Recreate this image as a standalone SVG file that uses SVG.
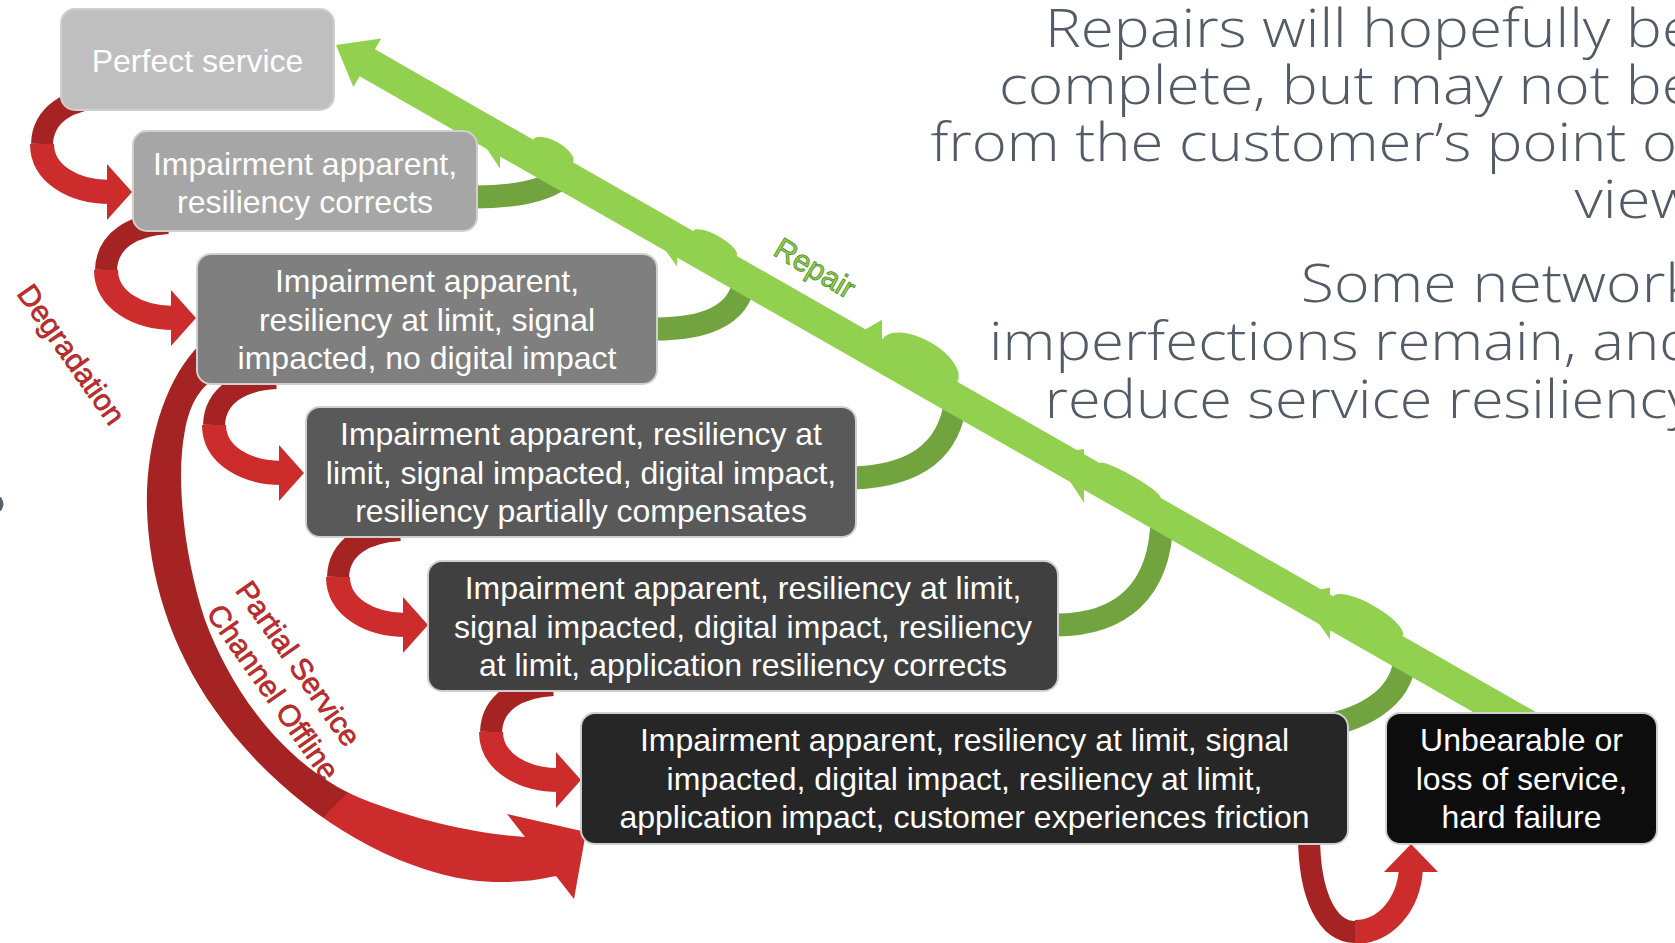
<svg xmlns="http://www.w3.org/2000/svg" width="1675" height="943" viewBox="0 0 1675 943">
  <defs>
    <style>
      .box rect { stroke: #cfcfcf; stroke-width: 2; }
      .box text { font-family: "Liberation Sans", Arial, sans-serif; font-size: 32px; fill: #ffffff; text-anchor: middle; }
      .note { font-family: "Open Sans", "Lato", sans-serif; font-weight: 300; font-size: 54px; fill: #535c66; }
      .red-lbl { font-family: "Liberation Sans", Arial, sans-serif; font-size: 30px; fill: #cc2b2b; stroke: #8e1b1b; stroke-width: 0.6; text-anchor: middle; }
      .grn-lbl { font-family: "Liberation Sans", Arial, sans-serif; font-size: 30px; fill: #92d050; stroke: #4f8a2a; stroke-width: 0.8; text-anchor: middle; }
      .back { fill: none; stroke: #a52322; stroke-width: 22; }
      .front { fill: none; stroke: #cc2c2c; stroke-width: 24; }
      .head { fill: #cc2c2c; }
      .band { fill: none; stroke: #71a33f; stroke-width: 23; }
      .lime { fill: #92d050; }
    </style>
    <!-- one degradation step: back ribbon, front ribbon, arrowhead (tip at origin) -->
    <g id="step-arrow">
      <path class="back" d="M -28 -95 C -63 -93 -89 -78 -90 -48"/>
      <path class="front" d="M -90 -48 C -90 -18 -58 0 -22 0"/>
      <path class="head" d="M -25 -28 L 0 0 L -25 28 Z"/>
    </g>
    <linearGradient id="bigFill" gradientUnits="userSpaceOnUse" x1="265" y1="745" x2="395" y2="875">
      <stop offset="0.5" stop-color="#a52322"/>
      <stop offset="0.5" stop-color="#cc2c2c"/>
    </linearGradient>
  </defs>

  <rect width="1675" height="943" fill="#ffffff"/>

  <!-- notes on the right -->
  <g id="notes">
    <text class="note" x="1045" y="46.5" textLength="650" lengthAdjust="spacingAndGlyphs">Repairs will hopefully be</text>
    <text class="note" x="999" y="103.8" textLength="696" lengthAdjust="spacingAndGlyphs">complete, but may not be</text>
    <text class="note" x="930.5" y="161" textLength="764.5" lengthAdjust="spacingAndGlyphs">from the customer’s point of</text>
    <text class="note" x="1574.5" y="218.3" textLength="120.5" lengthAdjust="spacingAndGlyphs">view</text>
    <text class="note" x="1300.8" y="301.5" textLength="394" lengthAdjust="spacingAndGlyphs">Some network</text>
    <text class="note" x="989" y="359.5" textLength="706" lengthAdjust="spacingAndGlyphs">imperfections remain, and</text>
    <text class="note" x="1044.8" y="417.5" textLength="650" lengthAdjust="spacingAndGlyphs">reduce service resiliency</text>
  </g>

  <!-- bullet cut by the left edge -->
  <circle cx="-6" cy="504" r="9.5" fill="#58606a"/>

  <g id="connectors">
    <!-- repair returns: bands from each box into the repair line -->
    <path class="band" d="M 474 197 C 512 197 548 192 566 174"/>
    <path class="band" d="M 655 329 C 700 329 740 318 744 280"/>
    <path class="band" d="M 853 478 C 905 476 950 458 956 398"/>
    <path class="band" d="M 1056 625 C 1120 625 1160 592 1162 520"/>
    <path class="band" d="M 1310 728 C 1360 722 1402 700 1405 658"/>

    <!-- repair line with arrowhead -->
    <line x1="362" y1="59.8" x2="1560" y2="743.7" stroke="#92d050" stroke-width="31"/>
    <polygon class="lime" points="336,45 381.2,38.5 353.4,87.1"/>

    <!-- joints where each return merges into the line -->
    <polygon class="lime" points="500,120.7 500,168.5 468,120.3"/>
    <polygon class="lime" points="677,221.8 677,266.4 645,221.4"/>
    <polygon class="lime" points="882,319.8 882,374.5 850,338.4"/>
    <polygon class="lime" points="1084,449.1 1084,502.8 1052,453.7"/>
    <polygon class="lime" points="1330,587.6 1330,639.3 1298,594.1"/>
    <ellipse class="lime" cx="553" cy="151.1" rx="23" ry="10" transform="rotate(29.71 553 151.1)"/>
    <ellipse class="lime" cx="715" cy="243.4" rx="25" ry="8" transform="rotate(29.71 715 243.4)"/>
    <ellipse class="lime" cx="920" cy="360.5" rx="43" ry="21" transform="rotate(29.71 920 360.5)"/>
    <ellipse class="lime" cx="1130" cy="480.4" rx="35" ry="5" transform="rotate(29.71 1130 480.4)"/>
    <ellipse class="lime" cx="1368" cy="616.3" rx="40" ry="12" transform="rotate(29.71 1368 616.3)"/>

    <!-- degradation steps -->
    <use href="#step-arrow" transform="translate(132 192)"/>
    <use href="#step-arrow" transform="translate(196 318)"/>
    <use href="#step-arrow" transform="translate(304 473)"/>
    <use href="#step-arrow" transform="translate(428 625)"/>
    <use href="#step-arrow" transform="translate(581 780)"/>

    <!-- partial service / channel offline shortcut -->
    <path fill="url(#bigFill)" d="M 205 340 C 175 365 150 420 147 490 C 145 560 165 640 215 710 C 270 790 370 865 470 880 C 500 884 530 882 556 876 L 574 899 L 586 832 L 507 814 L 525 837 C 480 834 420 822 360 798 C 290 768 235 700 205 620 C 185 560 175 480 185 430 C 190 405 198 390 215 378 Z"/>

    <!-- friction to hard failure -->
    <path class="back" d="M 1309 835 C 1309 897 1328 932 1355 932" stroke-width="23"/>
    <path class="front" d="M 1355 932 C 1385 932 1409 905 1411 868" stroke-width="21"/>
    <path class="head" d="M 1384 872 L 1411 844 L 1438 872 Z"/>
  </g>

  <g id="perfect" class="box">
    <rect x="61" y="9" width="273" height="101" rx="14" fill="#bfbfbf"/>
    <text x="197.5" y="72">Perfect service</text>
  </g>
  <g id="resiliency-corrects" class="box">
    <rect x="133" y="131" width="344" height="100" rx="14" fill="#a6a6a6"/>
    <text x="305" y="175">Impairment apparent,</text>
    <text x="305" y="212.5">resiliency corrects</text>
  </g>
  <g id="signal-impacted" class="box">
    <rect x="197" y="254" width="460" height="130" rx="14" fill="#7f7f7f"/>
    <text x="427" y="292">Impairment apparent,</text>
    <text x="427" y="330.5">resiliency at limit, signal</text>
    <text x="427" y="369">impacted, no digital impact</text>
  </g>
  <g id="digital-impact" class="box">
    <rect x="306" y="407" width="550" height="130" rx="14" fill="#595959"/>
    <text x="581" y="445">Impairment apparent, resiliency at</text>
    <text x="581" y="483.5">limit, signal impacted, digital impact,</text>
    <text x="581" y="522">resiliency partially compensates</text>
  </g>
  <g id="application-corrects" class="box">
    <rect x="428" y="561" width="630" height="130" rx="14" fill="#404040"/>
    <text x="743" y="599">Impairment apparent, resiliency at limit,</text>
    <text x="743" y="637.5">signal impacted, digital impact, resiliency</text>
    <text x="743" y="676">at limit, application resiliency corrects</text>
  </g>
  <g id="customer-friction" class="box">
    <rect x="581" y="713" width="767" height="131" rx="14" fill="#262626"/>
    <text x="964.5" y="751">Impairment apparent, resiliency at limit, signal</text>
    <text x="964.5" y="789.5">impacted, digital impact, resiliency at limit,</text>
    <text x="964.5" y="828">application impact, customer experiences friction</text>
  </g>
  <g id="hard-failure" class="box">
    <rect x="1386" y="713" width="271" height="131" rx="14" fill="#0d0d0d"/>
    <text x="1521.5" y="751">Unbearable or</text>
    <text x="1521.5" y="789.5">loss of service,</text>
    <text x="1521.5" y="828">hard failure</text>
  </g>

  <g id="labels">
    <text class="red-lbl" transform="translate(71.5 354.3) rotate(55)" x="0" y="10.5">Degradation</text>
    <g transform="translate(286 677) rotate(55)">
      <text class="red-lbl" x="-4" y="-7.5">Partial Service</text>
      <text class="red-lbl" x="5" y="29.5">Channel Offline</text>
    </g>
    <text class="grn-lbl" transform="translate(815 268) rotate(31)" x="0" y="10.5">Repair</text>
  </g>
</svg>
